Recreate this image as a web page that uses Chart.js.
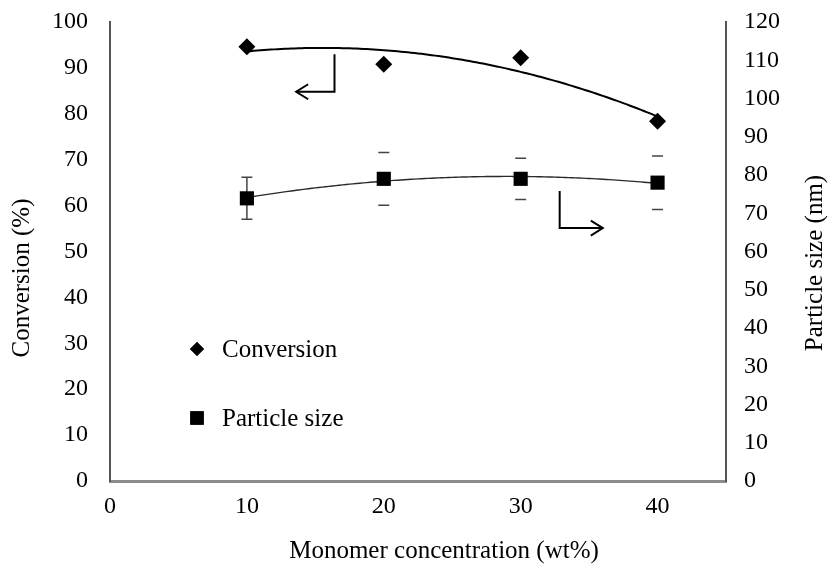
<!DOCTYPE html>
<html>
<head>
<meta charset="utf-8">
<script src="https://cdn.jsdelivr.net/npm/chart.js@4/dist/chart.umd.min.js"></script>
<style>
  html, body { margin: 0; padding: 0; background: #ffffff; }
  canvas { display: block; }
</style>
</head>
<body>
<canvas id="chart" width="829" height="566"></canvas>
<script>
// Monomer concentration (wt%)
const concentrations = [10, 20, 30, 40];
// Conversion (%)
const conversion = [94.6, 90.8, 92.2, 78.4];
// Particle size (nm) and its error (+/-)
const particleSize = [73.9, 79.0, 79.0, 78.0];
const particleError = [5.5, 6.9, 5.4, 7.0];

const seriesNames = ['Conversion', 'Particle size'];
const axisTitles = {
  x: 'Monomer concentration (wt%)',
  y: 'Conversion (%)',
  y2: 'Particle size (nm)'
};

const FONT = '"Liberation Serif", "Times New Roman", serif';
const FONT_SIZE = 24;
const TITLE_SIZE = 25;

// Least-squares 2nd order polynomial fit, used for the trend lines
function quadFit(xs, ys) {
  const n = xs.length;
  let s = [0, 0, 0, 0, 0], t = [0, 0, 0];
  for (let i = 0; i < n; i++) {
    const x = xs[i], y = ys[i];
    for (let k = 0; k < 5; k++) s[k] += Math.pow(x, k);
    for (let k = 0; k < 3; k++) t[k] += Math.pow(x, k) * y;
  }
  const A = [[s[0], s[1], s[2], t[0]], [s[1], s[2], s[3], t[1]], [s[2], s[3], s[4], t[2]]];
  for (let i = 0; i < 3; i++) {
    for (let j = i + 1; j < 3; j++) {
      const f = A[j][i] / A[i][i];
      for (let k = i; k < 4; k++) A[j][k] -= f * A[i][k];
    }
  }
  const c = [0, 0, 0];
  for (let i = 2; i >= 0; i--) {
    let v = A[i][3];
    for (let k = i + 1; k < 3; k++) v -= A[i][k] * c[k];
    c[i] = v / A[i][i];
  }
  return x => c[0] + c[1] * x + c[2] * x * x;
}

// Bent arrows pointing each curve to its axis (in data units of x / left y)
const arrowNotes = [
  { from: [16.4, 93.0], corner: [16.4, 84.8], to: [13.6, 84.8] },
  { from: [32.85, 63.2], corner: [32.85, 55.1], to: [36.0, 55.1] }
];

const extras = {
  id: 'extras',
  beforeDatasetsDraw(chart) {
    const { ctx, scales } = chart;
    const x = scales.x, y = scales.y, y2 = scales.y2;
    const x0 = concentrations[0], x1 = concentrations[concentrations.length - 1];

    // trend lines
    const trends = [
      { f: quadFit(concentrations, conversion), scale: y, color: '#000000', width: 2 },
      { f: quadFit(concentrations, particleSize), scale: y2, color: '#2a2a2a', width: 1.4 }
    ];
    trends.forEach(tr => {
      ctx.save();
      ctx.beginPath();
      for (let i = 0; i <= 120; i++) {
        const xv = x0 + (x1 - x0) * i / 120;
        const px = x.getPixelForValue(xv), py = tr.scale.getPixelForValue(tr.f(xv));
        if (i === 0) ctx.moveTo(px, py); else ctx.lineTo(px, py);
      }
      ctx.strokeStyle = tr.color;
      ctx.lineWidth = tr.width;
      ctx.stroke();
      ctx.restore();
    });

    // error bars on particle size
    ctx.save();
    concentrations.forEach((c, i) => {
      const px = x.getPixelForValue(c);
      const top = y2.getPixelForValue(particleSize[i] + particleError[i]);
      const bot = y2.getPixelForValue(particleSize[i] - particleError[i]);
      ctx.strokeStyle = '#444444';
      ctx.lineWidth = 1.5;
      ctx.beginPath();
      if (i === 0) { ctx.moveTo(px, top); ctx.lineTo(px, bot); }
      ctx.moveTo(px - 5.5, top); ctx.lineTo(px + 5.5, top);
      ctx.moveTo(px - 5.5, bot); ctx.lineTo(px + 5.5, bot);
      ctx.stroke();
    });
    ctx.restore();
  },
  afterDraw(chart) {
    const { ctx, scales, chartArea } = chart;
    const x = scales.x, y = scales.y;

    // arrows
    ctx.save();
    ctx.strokeStyle = '#000000';
    ctx.lineWidth = 2;
    arrowNotes.forEach(a => {
      const p0 = [x.getPixelForValue(a.from[0]), y.getPixelForValue(a.from[1])];
      const p1 = [x.getPixelForValue(a.corner[0]), y.getPixelForValue(a.corner[1])];
      const p2 = [x.getPixelForValue(a.to[0]), y.getPixelForValue(a.to[1])];
      ctx.beginPath();
      ctx.moveTo(p0[0], p0[1]); ctx.lineTo(p1[0], p1[1]); ctx.lineTo(p2[0], p2[1]);
      ctx.stroke();
      const dir = Math.sign(p2[0] - p1[0]);
      ctx.beginPath();
      ctx.moveTo(p2[0] - dir * 12, p2[1] - 7.5);
      ctx.lineTo(p2[0], p2[1]);
      ctx.lineTo(p2[0] - dir * 12, p2[1] + 7.5);
      ctx.stroke();
    });
    ctx.restore();

    // legend inside the plot
    ctx.save();
    ctx.font = TITLE_SIZE + 'px ' + FONT;
    ctx.fillStyle = '#000000';
    ctx.textBaseline = 'middle';
    const lx = chartArea.left + 87, ly = [chartArea.top + 327, chartArea.top + 396];
    chart.data.datasets.forEach((ds, i) => {
      Chart.helpers.drawPoint(ctx, {
        pointStyle: ds.pointStyle, radius: i === 0 ? 7 : 9.5, rotation: 0, borderWidth: 0
      }, lx, ly[i]);
      ctx.fill();
      ctx.fillText(ds.label, lx + 25, ly[i] + 1);
    });
    ctx.restore();

    // axis titles
    ctx.save();
    ctx.font = TITLE_SIZE + 'px ' + FONT;
    ctx.fillStyle = '#000000';
    ctx.textAlign = 'center';
    ctx.textBaseline = 'middle';
    ctx.fillText(axisTitles.x, 444, 551);
    ctx.translate(22, 278);
    ctx.rotate(-Math.PI / 2);
    ctx.fillText(axisTitles.y, 0, 0);
    ctx.restore();
    ctx.save();
    ctx.font = TITLE_SIZE + 'px ' + FONT;
    ctx.fillStyle = '#000000';
    ctx.textAlign = 'center';
    ctx.textBaseline = 'middle';
    ctx.translate(815, 263);
    ctx.rotate(-Math.PI / 2);
    ctx.fillText(axisTitles.y2, 0, 0);
    ctx.restore();
  }
};

const tickFont = { family: FONT, size: FONT_SIZE };

function noOverflow(s) {
  s.paddingTop = 0; s.paddingBottom = 0; s.paddingLeft = 0; s.paddingRight = 0;
}

new Chart(document.getElementById('chart'), {
  type: 'scatter',
  data: {
    datasets: [
      {
        label: seriesNames[0],
        data: concentrations.map((c, i) => ({ x: c, y: conversion[i] })),
        pointStyle: 'rectRot',
        pointRadius: 8.5,
        backgroundColor: '#000000',
        borderColor: '#000000',
        borderWidth: 0,
        yAxisID: 'y'
      },
      {
        label: seriesNames[1],
        data: concentrations.map((c, i) => ({ x: c, y: particleSize[i] })),
        pointStyle: 'rect',
        pointRadius: 10,
        backgroundColor: '#000000',
        borderColor: '#000000',
        borderWidth: 0,
        yAxisID: 'y2'
      }
    ]
  },
  options: {
    responsive: false,
    animation: false,
    devicePixelRatio: 1,
    events: [],
    layout: { padding: { top: 22, left: 0, right: 0, bottom: 0 } },
    plugins: { legend: { display: false }, tooltip: { enabled: false } },
    scales: {
      x: {
        type: 'linear',
        min: 0, max: 45,
        grid: { display: false, drawTicks: false },
        border: { display: true, color: '#8c8c8c', width: 3 },
        ticks: { stepSize: 10, includeBounds: false, color: '#000000', font: tickFont, padding: 11, maxRotation: 0 },
        afterFit(s) { s.height = 85; noOverflow(s); }
      },
      y: {
        position: 'left',
        min: 0, max: 100,
        grid: { display: false, drawTicks: false },
        border: { display: true, color: '#555555', width: 2 },
        ticks: { stepSize: 10, color: '#000000', font: tickFont, padding: 22 },
        afterFit(s) { s.width = 110; noOverflow(s); }
      },
      y2: {
        position: 'right',
        min: 0, max: 120,
        grid: { display: false, drawTicks: false },
        border: { display: true, color: '#555555', width: 2 },
        ticks: { stepSize: 10, color: '#000000', font: tickFont, padding: 18 },
        afterFit(s) { s.width = 103; noOverflow(s); }
      }
    }
  },
  plugins: [extras]
});
</script>
</body>
</html>
